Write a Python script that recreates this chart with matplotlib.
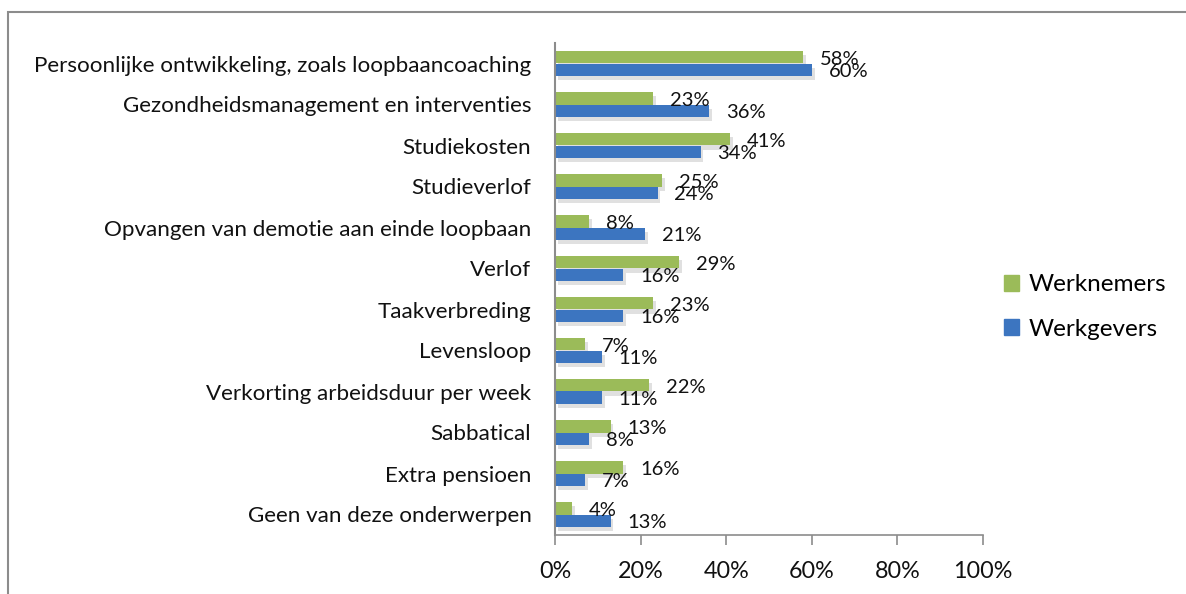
import matplotlib
matplotlib.use('Agg')
import matplotlib.pyplot as plt
import matplotlib.patheffects as pe
from matplotlib.patches import Rectangle
import numpy as np

plt.rcParams['font.family'] = ['Lato', 'DejaVu Sans']

categories = ['Persoonlijke ontwikkeling, zoals loopbaancoaching',
              'Gezondheidsmanagement en interventies',
              'Studiekosten',
              'Studieverlof',
              'Opvangen van demotie aan einde loopbaan',
              'Verlof',
              'Taakverbreding',
              'Levensloop',
              'Verkorting arbeidsduur per week',
              'Sabbatical',
              'Extra pensioen',
              'Geen van deze onderwerpen']
werknemers = [58, 23, 41, 25, 8, 29, 23, 7, 22, 13, 16, 4]
werkgevers = [60, 36, 34, 24, 21, 16, 16, 11, 11, 8, 7, 13]
xticks = [0, 20, 40, 60, 80, 100]

green = '#9BBB59'
blue = '#3C75C0'
shadow = [pe.SimplePatchShadow(offset=(2, -3), shadow_rgbFace='#999999', alpha=0.3), pe.Normal()]

fig = plt.figure(figsize=(11.86, 5.94), dpi=100)
# outer chart border (cut off on the right and bottom)
fig.patches.append(Rectangle((8 / 1186, -0.1), 1.2, 1 - 12 / 594 + 0.1, transform=fig.transFigure,
                             fill=False, edgecolor='#8c8c8c', linewidth=1.5))
ax = fig.add_axes([555 / 1186, 1 - 535 / 594, (983 - 555) / 1186, (535 - 43) / 594])

y = np.arange(len(categories))
h = 0.31
b1 = ax.barh(y - h / 2, werknemers, height=h, color=green, label='Werknemers', zorder=2)
b2 = ax.barh(y + h / 2, werkgevers, height=h, color=blue, label='Werkgevers', zorder=2)
for bar in list(b1) + list(b2):
    bar.set_path_effects(shadow)

for i in range(len(categories)):
    ax.annotate(f'{werknemers[i]}%', (werknemers[i], y[i] - h / 2), xytext=(12, -1.5),
                textcoords='offset points', va='center', ha='left', fontsize=14.5, color='#111111')
    ax.annotate(f'{werkgevers[i]}%', (werkgevers[i], y[i] + h / 2), xytext=(12, -1.5),
                textcoords='offset points', va='center', ha='left', fontsize=14.5, color='#111111')

ax.set_ylim(len(categories) - 0.5, -0.5)
ax.set_xlim(0, 100)
ax.set_yticks(y)
ax.set_yticklabels(categories, fontsize=16.1, color='#111111')
ax.set_xticks(xticks)
ax.set_xticklabels([f'{t}%' for t in xticks], fontsize=16.8, color='#111111')
ax.tick_params(axis='y', length=0, pad=17)
ax.tick_params(axis='x', length=7, width=1.2, color='#8c8c8c', pad=12)
for s in ['top', 'right']:
    ax.spines[s].set_visible(False)
ax.spines['left'].set_color('#8c8c8c')
ax.spines['bottom'].set_color('#8c8c8c')
ax.spines['left'].set_linewidth(1.5)
ax.spines['bottom'].set_linewidth(1.2)

handles = [Rectangle((0, 0), 1, 1, color=green), Rectangle((0, 0), 1, 1, color=blue)]
fig.legend(handles, ['Werknemers', 'Werkgevers'], loc='center left', bbox_to_anchor=(992 / 1186, 1 - 307 / 594),
           frameon=False, fontsize=17.5, handlelength=0.6, handleheight=0.6, handletextpad=0.4, labelspacing=0.95,
           borderpad=0)

plt.savefig('out.png', dpi=100)
